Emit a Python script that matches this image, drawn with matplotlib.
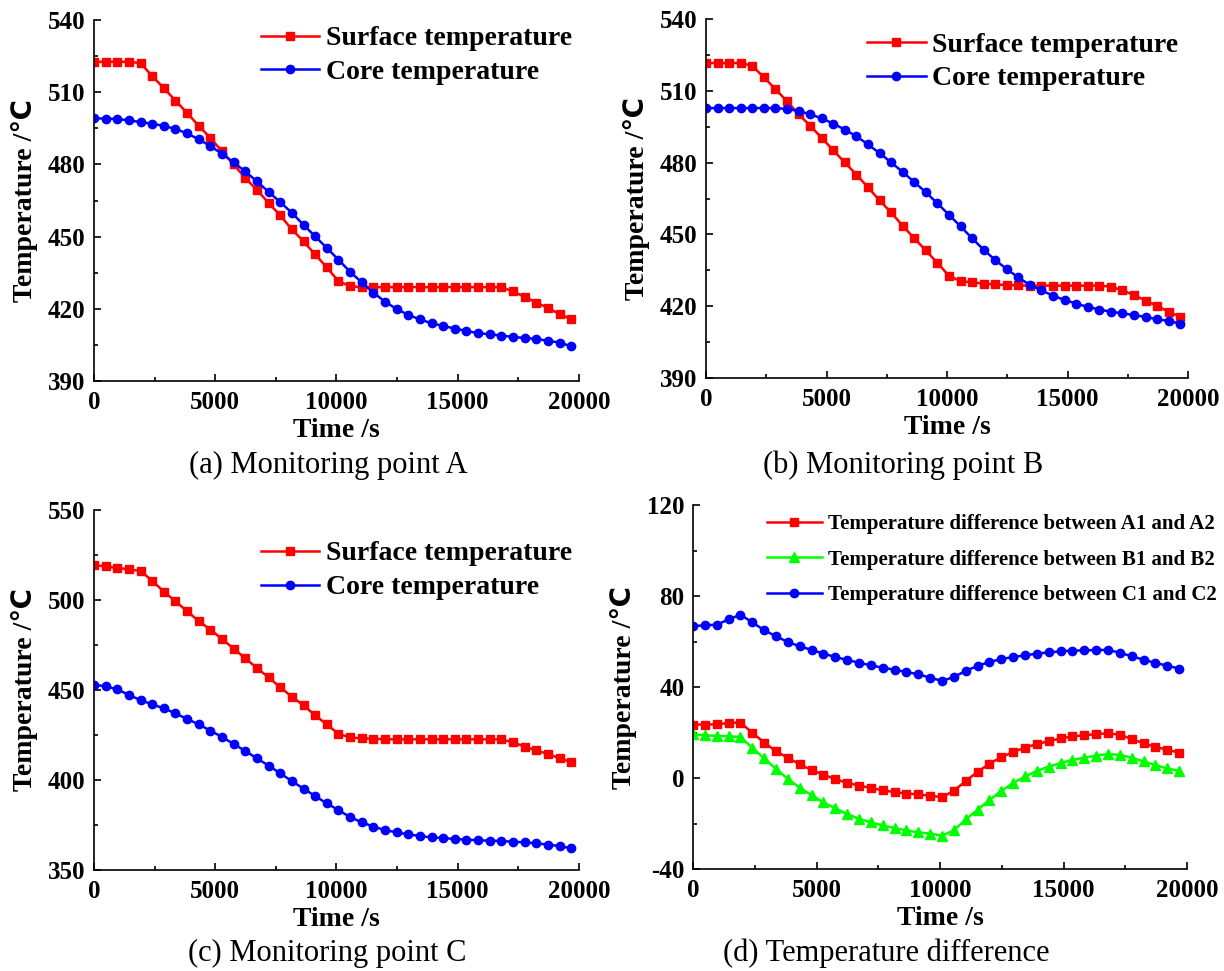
import numpy as np
import matplotlib
matplotlib.use('Agg')
import matplotlib.pyplot as plt
from matplotlib.ticker import MultipleLocator

plt.rcParams['font.family'] = ['Liberation Serif', 'DejaVu Serif']
plt.rcParams['axes.unicode_minus'] = False

# time steps (s)
time = np.arange(42) * 480

# (a) monitoring point A
surf_a = [522.6, 522.6, 522.6, 522.6, 522.1, 516.7, 511.7, 506.5, 501.4, 496.0,
          491.0, 485.4, 480.0, 474.3, 469.4, 464.0, 458.8, 453.0, 448.0, 442.6,
          437.2, 431.5, 429.4, 429.0, 429.0, 429.0, 429.0, 429.0, 429.0, 429.0,
          429.0, 429.0, 429.0, 429.0, 429.0, 429.0, 427.2, 425.0, 422.6, 420.4,
          417.8, 415.7]
core_a = [499.2, 499.0, 498.9, 498.3, 497.6, 496.9, 496.0, 494.7, 492.9, 490.4,
          487.6, 484.4, 480.8, 477.1, 472.9, 468.6, 464.3, 459.9, 454.9, 450.1,
          445.3, 440.4, 435.4, 431.0, 426.7, 423.0, 419.9, 417.5, 415.6, 414.0,
          412.9, 411.8, 410.8, 409.9, 409.4, 408.9, 408.3, 407.9, 407.5, 406.7,
          406.0, 404.4]

# (b) monitoring point B
surf_b = [521.6, 521.6, 521.6, 521.6, 520.5, 515.6, 510.8, 505.6, 500.3, 495.4,
          490.4, 485.1, 480.1, 475.0, 469.7, 464.2, 459.2, 453.6, 448.4, 443.3,
          438.1, 432.7, 430.5, 430.0, 429.4, 429.1, 428.9, 428.7, 428.6, 428.6,
          428.6, 428.6, 428.6, 428.6, 428.6, 428.2, 426.6, 424.7, 422.3, 420.1,
          417.7, 415.6]
core_b = [502.8, 502.8, 502.8, 502.8, 502.8, 502.8, 502.8, 502.4, 501.6, 500.2,
          498.5, 496.3, 493.8, 491.0, 487.6, 484.0, 480.1, 476.1, 471.9, 467.6,
          463.0, 458.2, 453.4, 448.4, 443.6, 439.3, 435.5, 432.0, 428.9, 426.6,
          424.4, 422.6, 421.1, 419.7, 418.6, 417.7, 417.0, 416.3, 415.5, 414.6,
          413.8, 412.7]

# (c) monitoring point C
surf_c = [519.3, 518.7, 517.8, 517.0, 516.1, 510.7, 504.6, 499.3, 493.7, 488.3,
          483.5, 478.3, 473.0, 467.6, 462.2, 457.0, 451.5, 446.3, 441.5, 435.9,
          430.9, 425.6, 423.7, 423.1, 423.0, 422.6, 422.6, 422.6, 422.6, 422.6,
          422.6, 422.6, 422.6, 422.6, 422.6, 422.6, 420.9, 418.5, 416.5, 414.4,
          412.2, 409.8]
core_c = [453.0, 452.0, 450.4, 447.2, 444.4, 442.0, 439.8, 437.0, 433.9, 430.9,
          427.4, 423.9, 420.0, 416.1, 412.0, 408.0, 403.7, 399.4, 395.2, 391.1,
          387.0, 383.3, 379.4, 376.5, 374.1, 372.2, 370.9, 369.8, 368.9, 368.1,
          367.8, 367.2, 366.9, 366.5, 366.3, 366.1, 365.7, 365.4, 364.8, 364.1,
          363.3, 362.0]

# (d) temperature differences
diff_a = [23.5, 23.5, 23.6, 24.2, 24.4, 19.9, 15.6, 11.8, 8.9, 6.0,
          3.5, 1.5, -0.5, -2.1, -3.3, -4.4, -5.4, -6.2, -6.8, -7.2,
          -7.8, -8.4, -5.6, -1.3, 2.7, 6.3, 9.2, 11.4, 13.4, 14.9,
          16.2, 17.4, 18.3, 18.8, 19.3, 19.7, 19.0, 17.2, 15.2, 13.7,
          12.4, 11.2]
diff_b = [19.3, 18.8, 18.5, 18.4, 18.0, 13.3, 8.6, 4.0, -0.4, -4.3,
          -7.5, -10.7, -13.3, -15.8, -17.9, -19.5, -20.8, -22.0, -23.0, -23.9,
          -24.4, -25.3, -23.0, -18.2, -13.9, -9.7, -5.7, -2.2, 0.7, 3.1,
          5.0, 6.6, 8.0, 8.9, 9.9, 10.5, 10.2, 8.9, 7.3, 5.7,
          4.2, 3.2]
diff_c = [66.8, 67.1, 67.4, 69.7, 71.8, 68.4, 65.0, 62.3, 59.8, 57.9,
          56.3, 54.7, 53.2, 51.9, 50.7, 49.5, 48.5, 47.6, 46.6, 45.6,
          44.1, 42.7, 44.4, 47.1, 49.3, 51.0, 52.3, 53.2, 53.9, 54.7,
          55.2, 55.7, 56.0, 56.1, 56.3, 56.3, 55.1, 53.5, 52.0, 50.6,
          49.4, 48.1]

fig = plt.figure(figsize=(12.24, 9.71), dpi=100)

ax_a = fig.add_axes([0.0768, 0.6076, 0.3962, 0.3718])
ax_b = fig.add_axes([0.5768, 0.6107, 0.3938, 0.3697])
ax_c = fig.add_axes([0.0768, 0.1040, 0.3962, 0.3708])
ax_d = fig.add_axes([0.5662, 0.1050, 0.4036, 0.3749])


def style_axis(ax, ylim, ystep):
    ax.set_xlim(0, 20000)
    ax.set_ylim(*ylim)
    ax.spines['top'].set_visible(False)
    ax.spines['right'].set_visible(False)
    ax.spines['left'].set_linewidth(1.2)
    ax.spines['bottom'].set_linewidth(1.2)
    ax.xaxis.set_major_locator(MultipleLocator(5000))
    ax.xaxis.set_minor_locator(MultipleLocator(2500))
    ax.yaxis.set_major_locator(MultipleLocator(ystep))
    ax.yaxis.set_minor_locator(MultipleLocator(ystep / 2))
    ax.tick_params(which='both', direction='in', width=1.2)
    ax.tick_params(which='major', length=5, labelsize=18)
    ax.tick_params(axis='x', which='major', pad=7)
    ax.tick_params(axis='y', which='major', pad=6)
    ax.tick_params(which='minor', length=3)
    for lab in ax.get_xticklabels() + ax.get_yticklabels():
        lab.set_fontweight('bold')
    ax.set_xlabel('Time /s', fontsize=20, fontweight='bold', labelpad=3)
    ax.set_ylabel('Temperature /\u2103', fontsize=20, fontweight='bold',
                  labelpad=7, family=['Liberation Serif', 'DejaVu Sans'])


for ax, s, c, lim, step, anchor in [
        (ax_a, surf_a, core_a, (390, 540), 30, (1.02, 1.03)),
        (ax_b, surf_b, core_b, (390, 540), 30, (1.015, 1.01)),
        (ax_c, surf_c, core_c, (350, 550), 50, (1.02, 0.96))]:
    ax.plot(time, s, color='red', marker='s', markersize=6, linewidth=1.8,
            label='Surface temperature')
    ax.plot(time, c, color='blue', marker='o', markersize=6, linewidth=1.8,
            label='Core temperature')
    style_axis(ax, lim, step)
    ax.legend(loc='upper right', bbox_to_anchor=anchor, frameon=False,
              prop={'size': 20, 'weight': 'bold'}, handlelength=2.1,
              handletextpad=0.25, labelspacing=0.3, borderaxespad=0.2)

ax_d.plot(time, diff_a, color='red', marker='s', markersize=6, linewidth=1.8,
          label='Temperature difference between A1 and A2')
ax_d.plot(time, diff_b, color='#00ff00', marker='^', markersize=7, linewidth=1.8,
          label='Temperature difference between B1 and B2')
ax_d.plot(time, diff_c, color='blue', marker='o', markersize=6, linewidth=1.8,
          label='Temperature difference between C1 and C2')
style_axis(ax_d, (-40, 120), 40)
ax_d.yaxis.set_minor_locator(MultipleLocator(20))
ax_d.legend(loc='upper right', bbox_to_anchor=(1.085, 1.01), frameon=False,
            prop={'size': 15, 'weight': 'bold'}, handlelength=2.6,
            handletextpad=0.3, labelspacing=0.75, borderaxespad=0.2)

# sub-figure captions
fig.text(0.268, 0.521, '(a) Monitoring point A', fontsize=22, ha='center', va='center')
fig.text(0.738, 0.521, '(b) Monitoring point B', fontsize=22, ha='center', va='center')
fig.text(0.267, 0.018, '(c) Monitoring point C', fontsize=22, ha='center', va='center')
fig.text(0.724, 0.018, '(d) Temperature difference', fontsize=22, ha='center', va='center')

fig.savefig('out.png', dpi=100)
